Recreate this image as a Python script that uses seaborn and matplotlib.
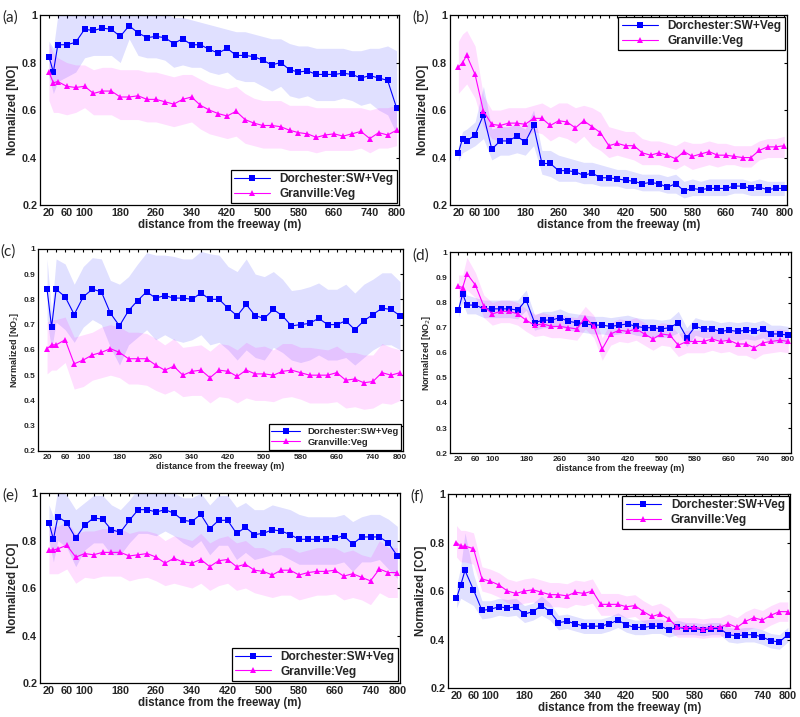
import matplotlib
matplotlib.use('Agg')
import matplotlib.pyplot as plt
import seaborn as sns

# distance from the freeway (m)
x = [20, 30, 40, 60, 80, 100, 120, 140, 160, 180, 200, 220, 240, 260, 280, 300, 320, 340, 360, 380,
     400, 420, 440, 460, 480, 500, 520, 540, 560, 580, 600, 620, 640, 660, 680, 700, 720, 740, 760, 780, 800]
tick_labels = [20, 60, 100, 180, 260, 340, 420, 500, 580, 660, 740, 800]

# (a) NO
a_dor = [0.825, 0.76, 0.875, 0.875, 0.885, 0.94, 0.935, 0.945, 0.94, 0.91, 0.955, 0.925, 0.905, 0.91, 0.905, 0.88, 0.90, 0.875, 0.875, 0.855,
         0.84, 0.86, 0.83, 0.83, 0.825, 0.81, 0.79, 0.80, 0.77, 0.76, 0.765, 0.75, 0.75, 0.75, 0.755, 0.75, 0.735, 0.745, 0.735, 0.725, 0.61]
a_dor_hi = [0.89, 0.86, 1.0, 1.02, 1.02, 1.04, 1.04, 1.05, 1.05, 1.02, 1.05, 1.04, 1.02, 1.02, 1.01, 0.99, 0.99, 0.98, 0.97, 0.96,
            0.95, 0.94, 0.93, 0.93, 0.92, 0.91, 0.90, 0.90, 0.88, 0.87, 0.87, 0.86, 0.86, 0.86, 0.86, 0.85, 0.85, 0.86, 0.86, 0.87, 0.85]
a_dor_lo = [0.74, 0.67, 0.72, 0.74, 0.76, 0.82, 0.83, 0.83, 0.83, 0.80, 0.90, 0.83, 0.82, 0.82, 0.81, 0.78, 0.79, 0.78, 0.78, 0.76,
            0.75, 0.76, 0.73, 0.72, 0.72, 0.70, 0.68, 0.70, 0.66, 0.65, 0.66, 0.64, 0.64, 0.64, 0.65, 0.64, 0.62, 0.63, 0.60, 0.58, 0.50]
a_gra = [0.76, 0.715, 0.72, 0.70, 0.695, 0.70, 0.67, 0.68, 0.68, 0.655, 0.655, 0.66, 0.645, 0.645, 0.635, 0.625, 0.645, 0.655, 0.62, 0.60,
         0.585, 0.575, 0.595, 0.56, 0.545, 0.535, 0.535, 0.53, 0.515, 0.505, 0.50, 0.485, 0.495, 0.50, 0.49, 0.50, 0.51, 0.48, 0.505, 0.495, 0.515]
a_gra_hi = [0.88, 0.84, 0.82, 0.80, 0.79, 0.79, 0.77, 0.78, 0.78, 0.77, 0.77, 0.77, 0.76, 0.76, 0.75, 0.74, 0.75, 0.75, 0.73, 0.71,
            0.70, 0.69, 0.70, 0.67, 0.65, 0.64, 0.64, 0.64, 0.62, 0.62, 0.62, 0.61, 0.61, 0.61, 0.61, 0.61, 0.61, 0.60, 0.61, 0.61, 0.62]
a_gra_lo = [0.64, 0.59, 0.59, 0.58, 0.59, 0.61, 0.58, 0.58, 0.58, 0.56, 0.56, 0.56, 0.55, 0.55, 0.54, 0.53, 0.54, 0.55, 0.52, 0.50,
            0.49, 0.48, 0.49, 0.46, 0.45, 0.44, 0.44, 0.44, 0.43, 0.43, 0.43, 0.42, 0.43, 0.43, 0.43, 0.43, 0.44, 0.42, 0.44, 0.44, 0.45]

# (b) NO
b_dor = [0.42, 0.48, 0.47, 0.495, 0.58, 0.435, 0.47, 0.47, 0.49, 0.465, 0.535, 0.375, 0.375, 0.345, 0.345, 0.34, 0.325, 0.335, 0.315, 0.315,
         0.31, 0.305, 0.30, 0.29, 0.295, 0.29, 0.275, 0.29, 0.26, 0.27, 0.265, 0.27, 0.27, 0.27, 0.28, 0.28, 0.27, 0.275, 0.265, 0.27, 0.27]
b_dor_hi = [0.45, 0.51, 0.52, 0.55, 0.70, 0.52, 0.53, 0.53, 0.54, 0.52, 0.60, 0.43, 0.43, 0.41, 0.40, 0.39, 0.38, 0.38, 0.37, 0.36,
            0.35, 0.35, 0.34, 0.33, 0.33, 0.33, 0.32, 0.33, 0.30, 0.31, 0.30, 0.31, 0.31, 0.31, 0.31, 0.31, 0.30, 0.31, 0.30, 0.30, 0.30]
b_dor_lo = [0.385, 0.42, 0.43, 0.45, 0.48, 0.39, 0.41, 0.41, 0.42, 0.41, 0.45, 0.33, 0.32, 0.30, 0.30, 0.30, 0.29, 0.29, 0.28, 0.28,
            0.28, 0.27, 0.27, 0.26, 0.26, 0.26, 0.25, 0.25, 0.23, 0.24, 0.24, 0.24, 0.24, 0.24, 0.25, 0.25, 0.24, 0.24, 0.24, 0.24, 0.24]
b_gra = [0.78, 0.80, 0.83, 0.75, 0.595, 0.54, 0.535, 0.545, 0.545, 0.54, 0.565, 0.565, 0.535, 0.555, 0.55, 0.525, 0.555, 0.53, 0.505, 0.45,
         0.46, 0.45, 0.45, 0.42, 0.41, 0.42, 0.41, 0.395, 0.425, 0.405, 0.415, 0.425, 0.41, 0.41, 0.405, 0.40, 0.40, 0.43, 0.445, 0.445, 0.45]
b_gra_hi = [0.89, 0.92, 0.935, 0.87, 0.66, 0.60, 0.60, 0.61, 0.61, 0.61, 0.62, 0.63, 0.61, 0.63, 0.63, 0.61, 0.62, 0.61, 0.59, 0.53,
            0.52, 0.51, 0.51, 0.48, 0.47, 0.47, 0.46, 0.45, 0.47, 0.46, 0.46, 0.47, 0.46, 0.46, 0.45, 0.45, 0.45, 0.47, 0.48, 0.48, 0.49]
b_gra_lo = [0.67, 0.69, 0.71, 0.65, 0.53, 0.48, 0.47, 0.48, 0.48, 0.48, 0.51, 0.50, 0.47, 0.49, 0.48, 0.46, 0.49, 0.45, 0.43, 0.40,
            0.41, 0.40, 0.39, 0.37, 0.37, 0.37, 0.36, 0.35, 0.37, 0.35, 0.36, 0.37, 0.36, 0.37, 0.37, 0.36, 0.36, 0.39, 0.40, 0.40, 0.40]

# (c) NO2
c_dor = [0.84, 0.69, 0.84, 0.81, 0.74, 0.81, 0.84, 0.83, 0.745, 0.695, 0.755, 0.795, 0.83, 0.805, 0.815, 0.805, 0.805, 0.80, 0.825, 0.80,
         0.80, 0.765, 0.735, 0.78, 0.735, 0.725, 0.76, 0.735, 0.695, 0.70, 0.705, 0.725, 0.70, 0.70, 0.715, 0.68, 0.715, 0.74, 0.765, 0.76, 0.735]
c_dor_hi = [0.96, 0.75, 0.96, 0.94, 0.86, 0.93, 0.965, 0.96, 0.875, 0.86, 0.89, 0.94, 0.985, 0.975, 0.975, 0.97, 0.96, 0.96, 0.99, 0.98,
            0.975, 0.93, 0.91, 0.96, 0.90, 0.89, 0.91, 0.88, 0.835, 0.84, 0.85, 0.865, 0.84, 0.84, 0.86, 0.825, 0.86, 0.88, 0.905, 0.905, 0.87]
c_dor_lo = [0.72, 0.60, 0.71, 0.68, 0.63, 0.69, 0.72, 0.70, 0.61, 0.54, 0.62, 0.65, 0.68, 0.64, 0.66, 0.64, 0.63, 0.64, 0.66, 0.62,
            0.63, 0.60, 0.56, 0.60, 0.57, 0.56, 0.61, 0.59, 0.56, 0.55, 0.56, 0.58, 0.56, 0.56, 0.57, 0.54, 0.57, 0.60, 0.62, 0.62, 0.60]
c_gra = [0.605, 0.62, 0.62, 0.64, 0.545, 0.56, 0.58, 0.59, 0.605, 0.59, 0.565, 0.565, 0.565, 0.54, 0.52, 0.535, 0.50, 0.515, 0.52, 0.49,
         0.52, 0.515, 0.495, 0.52, 0.505, 0.505, 0.50, 0.515, 0.52, 0.51, 0.50, 0.50, 0.50, 0.51, 0.48, 0.485, 0.47, 0.475, 0.51, 0.50, 0.51]
c_gra_hi = [0.71, 0.72, 0.72, 0.73, 0.65, 0.66, 0.67, 0.69, 0.70, 0.69, 0.67, 0.67, 0.665, 0.645, 0.62, 0.645, 0.61, 0.615, 0.62, 0.595,
            0.625, 0.62, 0.60, 0.63, 0.61, 0.615, 0.60, 0.625, 0.625, 0.61, 0.61, 0.605, 0.60, 0.615, 0.59, 0.59, 0.58, 0.58, 0.625, 0.61, 0.60]
c_gra_lo = [0.505, 0.52, 0.52, 0.55, 0.445, 0.455, 0.48, 0.49, 0.50, 0.49, 0.465, 0.465, 0.46, 0.44, 0.425, 0.44, 0.415, 0.42, 0.42, 0.39,
            0.415, 0.41, 0.39, 0.41, 0.40, 0.40, 0.395, 0.41, 0.415, 0.405, 0.39, 0.39, 0.39, 0.395, 0.37, 0.375, 0.365, 0.37, 0.39, 0.385, 0.40]

# (d) NO2
d_dor = [0.77, 0.835, 0.79, 0.79, 0.775, 0.775, 0.775, 0.775, 0.77, 0.81, 0.72, 0.73, 0.73, 0.74, 0.725, 0.72, 0.715, 0.71, 0.71, 0.705,
         0.71, 0.715, 0.705, 0.70, 0.70, 0.695, 0.70, 0.72, 0.66, 0.705, 0.695, 0.695, 0.685, 0.69, 0.685, 0.69, 0.685, 0.695, 0.675, 0.675, 0.67]
d_dor_hi = [0.80, 0.87, 0.83, 0.82, 0.81, 0.81, 0.81, 0.81, 0.81, 0.85, 0.75, 0.765, 0.765, 0.775, 0.76, 0.755, 0.75, 0.745, 0.745, 0.74,
            0.745, 0.75, 0.74, 0.735, 0.735, 0.73, 0.735, 0.765, 0.70, 0.74, 0.73, 0.73, 0.72, 0.725, 0.72, 0.725, 0.72, 0.73, 0.71, 0.71, 0.705]
d_dor_lo = [0.74, 0.80, 0.755, 0.755, 0.74, 0.74, 0.74, 0.74, 0.735, 0.77, 0.69, 0.70, 0.70, 0.705, 0.69, 0.685, 0.68, 0.675, 0.675, 0.67,
            0.675, 0.68, 0.67, 0.665, 0.665, 0.66, 0.665, 0.68, 0.625, 0.67, 0.66, 0.66, 0.65, 0.655, 0.65, 0.655, 0.65, 0.66, 0.64, 0.64, 0.635]
d_gra = [0.865, 0.86, 0.915, 0.87, 0.785, 0.755, 0.765, 0.765, 0.755, 0.73, 0.71, 0.715, 0.705, 0.705, 0.70, 0.695, 0.74, 0.705, 0.615, 0.675,
         0.69, 0.685, 0.695, 0.675, 0.655, 0.675, 0.67, 0.63, 0.645, 0.645, 0.645, 0.655, 0.645, 0.65, 0.635, 0.635, 0.62, 0.64, 0.645, 0.65, 0.645]
d_gra_hi = [0.91, 0.91, 0.98, 0.92, 0.83, 0.80, 0.81, 0.81, 0.80, 0.775, 0.755, 0.76, 0.75, 0.75, 0.745, 0.74, 0.785, 0.75, 0.66, 0.72,
            0.735, 0.73, 0.74, 0.72, 0.70, 0.72, 0.715, 0.675, 0.69, 0.69, 0.69, 0.70, 0.69, 0.695, 0.68, 0.68, 0.665, 0.685, 0.69, 0.695, 0.69]
d_gra_lo = [0.82, 0.81, 0.85, 0.82, 0.74, 0.71, 0.72, 0.72, 0.71, 0.685, 0.665, 0.67, 0.66, 0.66, 0.655, 0.65, 0.695, 0.66, 0.57, 0.63,
            0.645, 0.64, 0.65, 0.63, 0.61, 0.63, 0.625, 0.585, 0.60, 0.60, 0.60, 0.61, 0.60, 0.605, 0.59, 0.59, 0.575, 0.595, 0.60, 0.605, 0.60]

# (e) CO
e_dor = [0.875, 0.805, 0.90, 0.875, 0.81, 0.865, 0.895, 0.89, 0.845, 0.835, 0.885, 0.93, 0.93, 0.92, 0.93, 0.915, 0.885, 0.88, 0.91, 0.85,
         0.885, 0.885, 0.83, 0.855, 0.825, 0.83, 0.845, 0.84, 0.825, 0.805, 0.805, 0.805, 0.805, 0.81, 0.82, 0.785, 0.815, 0.815, 0.815, 0.79, 0.735]
e_dor_hi = [0.95, 0.90, 1.02, 0.99, 0.93, 0.96, 0.99, 0.99, 0.95, 0.93, 0.97, 1.02, 1.03, 1.02, 1.02, 1.0, 0.98, 0.98, 1.0, 0.95,
            0.99, 0.99, 0.94, 0.96, 0.93, 0.93, 0.95, 0.94, 0.93, 0.91, 0.90, 0.90, 0.90, 0.90, 0.91, 0.88, 0.90, 0.91, 0.91, 0.89, 0.86]
e_dor_lo = [0.80, 0.71, 0.80, 0.77, 0.69, 0.76, 0.79, 0.79, 0.74, 0.74, 0.79, 0.83, 0.83, 0.82, 0.84, 0.82, 0.79, 0.77, 0.80, 0.74,
            0.78, 0.78, 0.72, 0.75, 0.72, 0.73, 0.74, 0.74, 0.72, 0.70, 0.70, 0.70, 0.70, 0.70, 0.71, 0.67, 0.71, 0.71, 0.72, 0.68, 0.64]
e_gra = [0.76, 0.76, 0.765, 0.78, 0.73, 0.745, 0.74, 0.75, 0.75, 0.75, 0.735, 0.74, 0.745, 0.73, 0.705, 0.725, 0.71, 0.705, 0.72, 0.69,
         0.715, 0.72, 0.69, 0.70, 0.675, 0.67, 0.655, 0.675, 0.675, 0.655, 0.665, 0.67, 0.67, 0.675, 0.65, 0.66, 0.645, 0.63, 0.68, 0.665, 0.665]
e_gra_hi = [0.85, 0.86, 0.86, 0.88, 0.83, 0.84, 0.84, 0.85, 0.85, 0.85, 0.83, 0.84, 0.84, 0.83, 0.80, 0.82, 0.81, 0.80, 0.83, 0.79,
            0.81, 0.82, 0.79, 0.80, 0.77, 0.77, 0.75, 0.77, 0.77, 0.75, 0.76, 0.77, 0.77, 0.77, 0.75, 0.76, 0.74, 0.73, 0.80, 0.77, 0.77]
e_gra_lo = [0.66, 0.66, 0.66, 0.68, 0.62, 0.645, 0.64, 0.65, 0.65, 0.65, 0.63, 0.64, 0.645, 0.63, 0.61, 0.62, 0.61, 0.60, 0.62, 0.59,
            0.61, 0.62, 0.59, 0.60, 0.58, 0.57, 0.56, 0.57, 0.57, 0.55, 0.56, 0.57, 0.57, 0.575, 0.55, 0.56, 0.55, 0.53, 0.58, 0.56, 0.56]

# (f) CO
f_dor = [0.57, 0.625, 0.685, 0.605, 0.52, 0.525, 0.535, 0.53, 0.535, 0.505, 0.515, 0.54, 0.515, 0.47, 0.475, 0.465, 0.455, 0.455, 0.455, 0.465,
         0.48, 0.46, 0.45, 0.45, 0.455, 0.455, 0.44, 0.45, 0.445, 0.445, 0.44, 0.445, 0.445, 0.42, 0.415, 0.42, 0.42, 0.41, 0.395, 0.39, 0.42]
f_dor_hi = [0.62, 0.70, 0.84, 0.67, 0.56, 0.56, 0.57, 0.565, 0.57, 0.54, 0.55, 0.58, 0.55, 0.50, 0.505, 0.495, 0.485, 0.485, 0.485, 0.495,
            0.51, 0.49, 0.48, 0.48, 0.485, 0.485, 0.47, 0.48, 0.47, 0.47, 0.465, 0.47, 0.47, 0.45, 0.445, 0.45, 0.45, 0.44, 0.425, 0.42, 0.45]
f_dor_lo = [0.53, 0.57, 0.56, 0.54, 0.485, 0.49, 0.50, 0.495, 0.50, 0.47, 0.48, 0.50, 0.48, 0.44, 0.445, 0.435, 0.425, 0.425, 0.425, 0.435,
            0.45, 0.43, 0.42, 0.42, 0.425, 0.425, 0.41, 0.42, 0.42, 0.42, 0.415, 0.42, 0.42, 0.39, 0.385, 0.39, 0.39, 0.38, 0.365, 0.36, 0.39]
f_gra = [0.80, 0.785, 0.785, 0.775, 0.65, 0.64, 0.625, 0.60, 0.59, 0.60, 0.605, 0.595, 0.585, 0.585, 0.58, 0.595, 0.59, 0.60, 0.545, 0.545,
         0.545, 0.535, 0.54, 0.515, 0.495, 0.505, 0.485, 0.45, 0.45, 0.45, 0.445, 0.45, 0.45, 0.465, 0.45, 0.475, 0.49, 0.48, 0.50, 0.515, 0.515]
f_gra_hi = [0.87, 0.85, 0.85, 0.84, 0.70, 0.69, 0.675, 0.65, 0.64, 0.65, 0.655, 0.645, 0.635, 0.635, 0.63, 0.645, 0.64, 0.65, 0.59, 0.59,
            0.59, 0.58, 0.585, 0.56, 0.54, 0.55, 0.53, 0.49, 0.49, 0.49, 0.485, 0.49, 0.49, 0.505, 0.49, 0.515, 0.53, 0.52, 0.54, 0.555, 0.555]
f_gra_lo = [0.74, 0.72, 0.72, 0.71, 0.60, 0.59, 0.575, 0.55, 0.54, 0.55, 0.555, 0.545, 0.535, 0.535, 0.53, 0.545, 0.54, 0.55, 0.50, 0.50,
            0.50, 0.49, 0.495, 0.47, 0.45, 0.46, 0.44, 0.41, 0.41, 0.41, 0.405, 0.41, 0.41, 0.425, 0.41, 0.435, 0.45, 0.44, 0.46, 0.475, 0.475]

BLUE = '#0000ff'
PINK = '#ff00ff'

sns.set_style('white')
plt.rcParams['font.family'] = ['Liberation Sans', 'DejaVu Sans']

fig = plt.figure(figsize=(8, 7.17), dpi=100)


def panel(rect, tag, ylab, dor, dor_lo, dor_hi, gra, gra_lo, gra_hi, fine, legend_loc, fs):
    ax = fig.add_axes(rect)
    ax.fill_between(x, dor_lo, dor_hi, color=BLUE, alpha=0.12, lw=0)
    ax.fill_between(x, gra_lo, gra_hi, color=PINK, alpha=0.13, lw=0)
    sns.lineplot(x=x, y=dor, ax=ax, color=BLUE, marker='s', markersize=4.2, markeredgewidth=0,
                 linewidth=0.8, label='Dorchester:SW+Veg')
    sns.lineplot(x=x, y=gra, ax=ax, color=PINK, marker='^', markersize=5, markeredgewidth=0,
                 linewidth=0.8, label='Granville:Veg')
    ax.set_xlim(0, 806)
    ax.set_ylim(0.2, 1.0)
    ax.set_xticks(range(20, 801, 20))
    ax.set_xticklabels([str(v) if v in tick_labels else '' for v in range(20, 801, 20)],
                       fontsize=fs, fontweight='bold')
    if fine:
        yt = [0.2, 0.3, 0.4, 0.5, 0.6, 0.7, 0.8, 0.9, 1.0]
    else:
        yt = [0.2, 0.4, 0.6, 0.8, 1.0]
    ax.set_yticks(yt)
    ax.set_yticklabels(['1' if v == 1.0 else f'{v:.1f}' for v in yt], fontsize=fs, fontweight='bold')
    ax.tick_params(direction='in', top=True, right=True, length=2.5, width=0.8, pad=2, color='black')
    for s in ax.spines.values():
        s.set_color('black')
        s.set_linewidth(0.9)
    ax.set_xlabel('distance from the freeway (m)', fontsize=fs + 0.5, fontweight='bold', labelpad=1)
    ax.set_ylabel(ylab, fontsize=fs + 0.5, fontweight='bold', labelpad=2)
    if legend_loc is None:
        ax.get_legend().remove()
    else:
        leg = ax.legend(loc=legend_loc, frameon=True, fancybox=False, framealpha=1,
                        edgecolor='black', handlelength=3, borderpad=0.3, labelspacing=0.2,
                        borderaxespad=0.15, prop={'weight': 'bold', 'size': fs + 0.8})
        leg.get_frame().set_linewidth(0.9)
    fig.text(rect[0] - 0.047, rect[1] + rect[3] - 0.004, tag, fontsize=11, family='Lato', va='center')
    return ax


panel([0.050, 0.714, 0.449, 0.265], '(a)', 'Normalized [NO]',
      a_dor, a_dor_lo, a_dor_hi, a_gra, a_gra_lo, a_gra_hi, False, 'lower right', 7.8)
panel([0.5625, 0.714, 0.421, 0.265], '(b)', 'Normalized [NO]',
      b_dor, b_dor_lo, b_dor_hi, b_gra, b_gra_lo, b_gra_hi, False, 'upper right', 7.8)
panel([0.0475, 0.371, 0.456, 0.282], '(c)', 'Normalized [NO$_2$]',
      c_dor, c_dor_lo, c_dor_hi, c_gra, c_gra_lo, c_gra_hi, True, 'lower right', 6)
panel([0.5625, 0.368, 0.426, 0.280], '(d)', 'Normalized [NO$_2$]',
      d_dor, d_dor_lo, d_dor_hi, d_gra, d_gra_lo, d_gra_hi, True, None, 6)
panel([0.050, 0.0474, 0.450, 0.265], '(e)', 'Normalized [CO]',
      e_dor, e_dor_lo, e_dor_hi, e_gra, e_gra_lo, e_gra_hi, False, 'lower right', 7.8)
panel([0.560, 0.0404, 0.428, 0.2706], '(f)', 'Normalized [CO]',
      f_dor, f_dor_lo, f_dor_hi, f_gra, f_gra_lo, f_gra_hi, False, 'upper right', 7.8)

fig.savefig('out.png', dpi=100)
